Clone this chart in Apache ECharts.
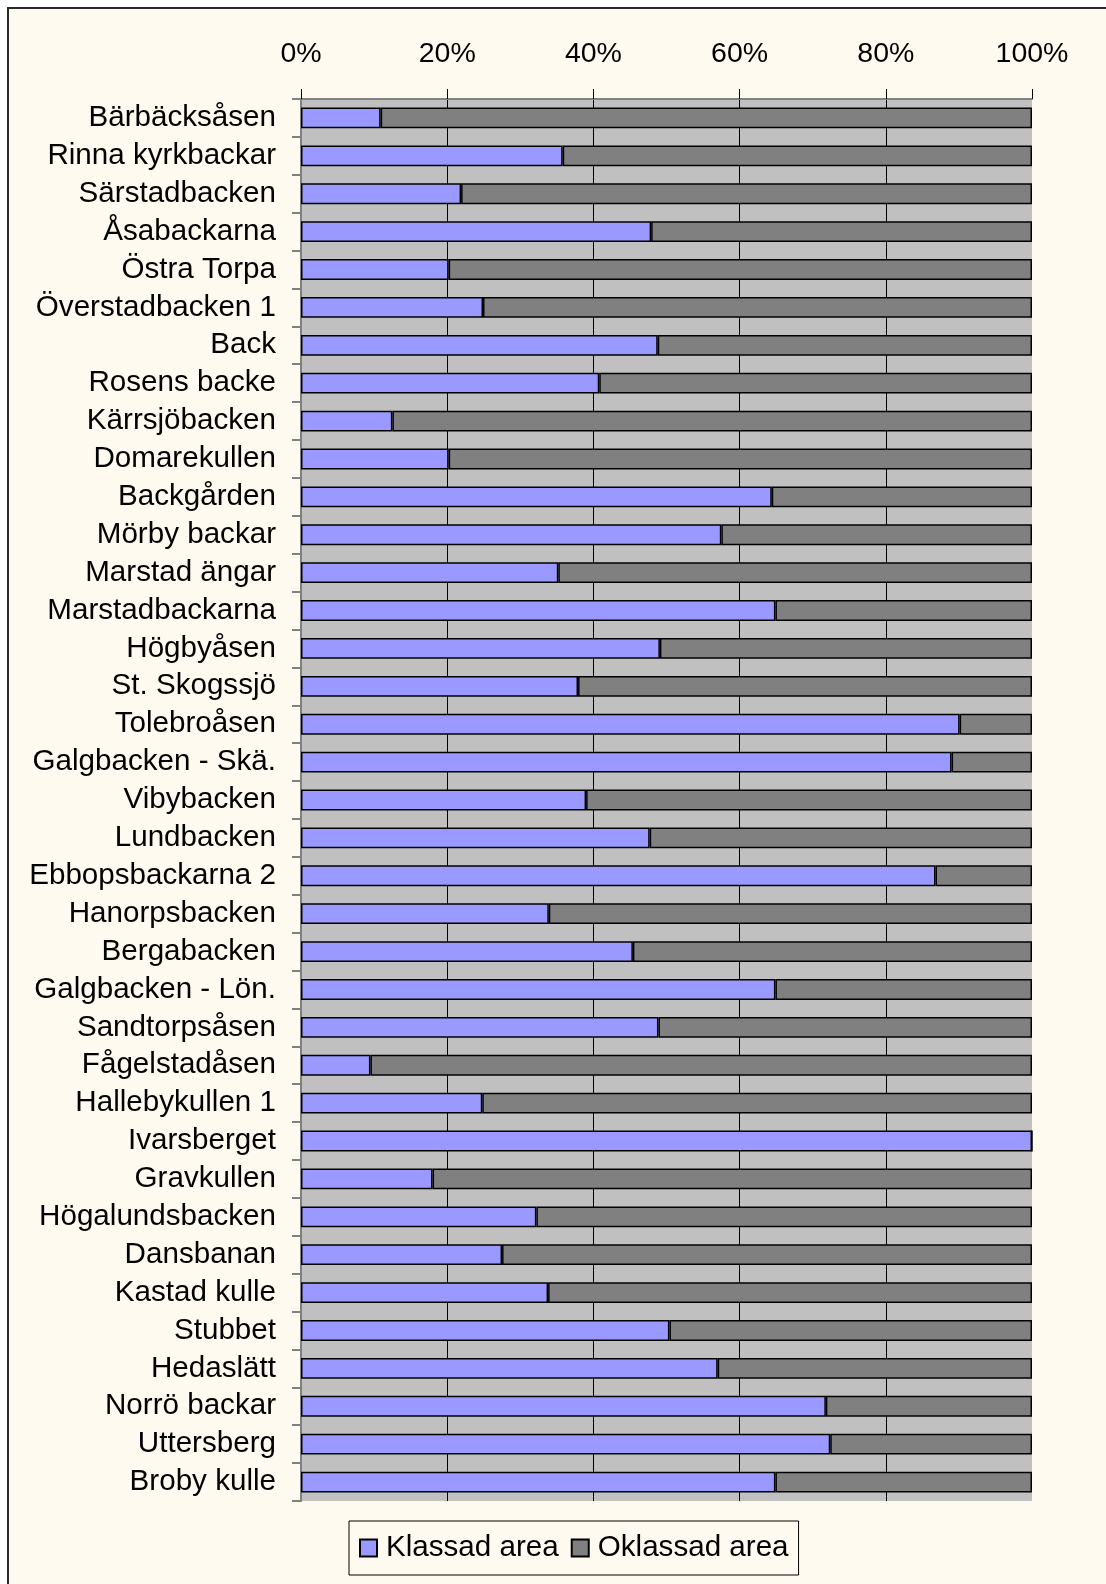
<!DOCTYPE html>
<html>
<head>
<meta charset="utf-8">
<script src="https://cdn.jsdelivr.net/npm/echarts@6/dist/echarts.min.js"></script>
<style>
  html, body { margin: 0; padding: 0; background: #ffffff; }
  #chart { width: 1106px; height: 1584px; }
</style>
</head>
<body>
<div id="chart"></div>
<script>
// Sites, top to bottom
const sites = [
  'Bärbäcksåsen', 'Rinna kyrkbackar', 'Särstadbacken', 'Åsabackarna', 'Östra Torpa',
  'Överstadbacken 1', 'Back', 'Rosens backe', 'Kärrsjöbacken', 'Domarekullen',
  'Backgården', 'Mörby backar', 'Marstad ängar', 'Marstadbackarna', 'Högbyåsen',
  'St. Skogssjö', 'Tolebroåsen', 'Galgbacken - Skä.', 'Vibybacken', 'Lundbacken',
  'Ebbopsbackarna 2', 'Hanorpsbacken', 'Bergabacken', 'Galgbacken - Lön.', 'Sandtorpsåsen',
  'Fågelstadåsen', 'Hallebykullen 1', 'Ivarsberget', 'Gravkullen', 'Högalundsbacken',
  'Dansbanan', 'Kastad kulle', 'Stubbet', 'Hedaslätt', 'Norrö backar',
  'Uttersberg', 'Broby kulle'
];

// Share of each site's area (%)
const klassad = [
  10.9, 35.8, 21.9, 47.9, 20.2,
  24.9, 48.8, 40.8, 12.5, 20.2,
  64.4, 57.5, 35.2, 64.9, 49.1,
  37.9, 90.1, 89.0, 39.0, 47.7,
  86.8, 33.9, 45.4, 64.9, 48.9,
  9.5, 24.8, 100, 18.0, 32.2,
  27.5, 33.8, 50.4, 57.0, 71.8,
  72.4, 64.9
];
const oklassad = [
  89.1, 64.2, 78.1, 52.1, 79.8,
  75.1, 51.2, 59.2, 87.5, 79.8,
  35.6, 42.5, 64.8, 35.1, 50.9,
  62.1, 9.9, 11.0, 61.0, 52.3,
  13.2, 66.1, 54.6, 35.1, 51.1,
  90.5, 75.2, 0, 82.0, 67.8,
  72.5, 66.2, 49.6, 43.0, 28.2,
  27.6, 35.1
];

const seriesNames = ['Klassad area', 'Oklassad area'];
const percentTicks = [0, 20, 40, 60, 80, 100];

const FONT = "'Liberation Sans', Arial, sans-serif";
const IVORY = '#FFFAF0';

const chart = echarts.init(document.getElementById('chart'), null, { renderer: 'canvas' });

const barStyle = (color) => ({
  color: color,
  borderColor: '#000000',
  borderWidth: 1.5
});

chart.setOption({
  animation: false,
  textStyle: { fontFamily: FONT },
  graphic: [{
    type: 'rect',
    z: -10,
    shape: { x: 8, y: 8, width: 1120, height: 1600 },
    style: { fill: IVORY, stroke: '#2a2a2a', lineWidth: 2 }
  }],
  grid: {
    left: 301,
    right: 74,
    top: 99,
    bottom: 83,
    show: true,
    backgroundColor: '#C0C0C0',
    borderWidth: 0
  },
  legend: {
    data: seriesNames,
    left: 349,
    top: 1521,
    orient: 'horizontal',
    padding: [12, 10, 12, 10],
    backgroundColor: IVORY,
    borderColor: '#000000',
    borderWidth: 1,
    icon: 'rect',
    itemWidth: 17,
    itemHeight: 17,
    itemGap: 12,
    textStyle: {
      fontFamily: FONT,
      fontSize: 29.6,
      color: '#000000',
      padding: [0, 0, 0, 4]
    }
  },
  xAxis: {
    type: 'value',
    position: 'top',
    min: percentTicks[0],
    max: percentTicks[percentTicks.length - 1],
    interval: percentTicks[1] - percentTicks[0],
    axisLine: { show: true, lineStyle: { color: '#808080', width: 2 } },
    axisTick: { show: true, inside: false, length: 10, lineStyle: { color: '#000000', width: 1 } },
    axisLabel: {
      formatter: '{value}%',
      fontFamily: FONT,
      fontSize: 28.5,
      color: '#000000',
      margin: 30
    },
    splitLine: {
      show: true,
      showMinLine: false,
      showMaxLine: false,
      lineStyle: { color: '#000000', width: 1 }
    }
  },
  yAxis: {
    type: 'category',
    data: sites,
    inverse: true,
    axisLine: { show: true, lineStyle: { color: '#808080', width: 2 } },
    axisTick: { show: true, inside: false, length: 9, lineStyle: { color: '#808080', width: 2 } },
    axisLabel: {
      fontFamily: FONT,
      fontSize: 29.6,
      color: '#000000',
      margin: 25,
      interval: 0,
      padding: [4, 0, 0, 0]
    },
    splitLine: { show: false }
  },
  series: [
    {
      name: seriesNames[0],
      type: 'bar',
      stack: 'area',
      barWidth: '55%',
      data: klassad,
      itemStyle: barStyle('#9999FF')
    },
    {
      name: seriesNames[1],
      type: 'bar',
      stack: 'area',
      barWidth: '55%',
      data: oklassad,
      itemStyle: barStyle('#808080')
    }
  ]
});
</script>
</body>
</html>
